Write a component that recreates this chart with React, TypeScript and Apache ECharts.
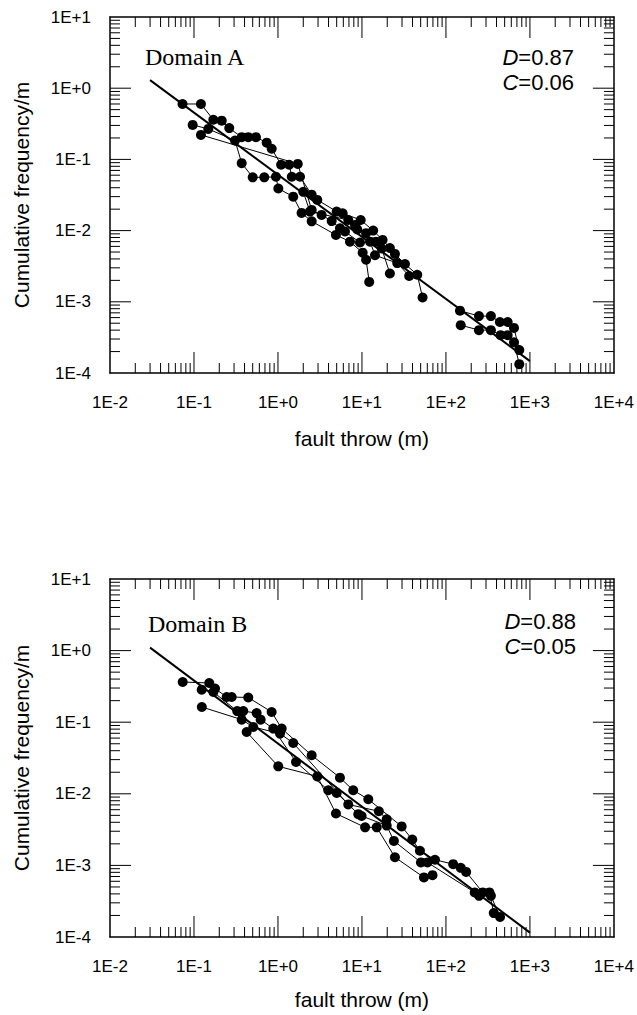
import React, { useEffect, useRef } from "react";
import * as echarts from "echarts";

// ---- axis structure ----
const X_MIN = 0.01;
const X_MAX = 10000;
const Y_MIN = 0.0001;
const Y_MAX = 10;
const xDecades = [-2, -1, 0, 1, 2, 3];
const yDecades = [-4, -3, -2, -1, 0];
const minorMultipliers = [2, 3, 4, 5, 6, 7, 8, 9];
const xMajorTicks = [0.1, 1, 10, 100, 1000];
const yMajorTicks = [0.001, 0.01, 0.1, 1];

// ---- Domain A ----
const a1X = [0.073, 0.121, 0.17, 0.214, 0.263, 0.37, 0.443, 0.547, 0.734, 0.842, 1.09, 1.36, 1.46, 1.83, 2.52, 2.94, 5.0, 5.89, 9.66, 13.6, 17.6, 21.5, 24.7, 32.5, 45.5, 52.7];
const a1Y = [0.6, 0.6, 0.36, 0.35, 0.275, 0.205, 0.205, 0.205, 0.172, 0.141, 0.084, 0.084, 0.057, 0.057, 0.032, 0.027, 0.0185, 0.0175, 0.0141, 0.01, 0.0074, 0.0057, 0.0047, 0.0034, 0.0024, 0.00115];
const a2X = [0.0965, 0.148, 0.308, 0.37, 0.5, 0.687, 0.946, 1.01, 1.52, 1.91, 2.52, 4.9, 7.2, 10.2, 11.2, 12.2];
const a2Y = [0.305, 0.268, 0.184, 0.0885, 0.056, 0.056, 0.057, 0.039, 0.03, 0.0177, 0.0135, 0.0087, 0.007, 0.0049, 0.0039, 0.0019];
const a3X = [0.121, 1.72, 2.52, 3.31, 4.36, 5.47, 6.28, 9.47, 14.7, 17.2, 21.5];
const a3Y = [0.221, 0.0865, 0.0195, 0.0166, 0.0136, 0.0108, 0.0097, 0.0068, 0.007, 0.0056, 0.0025];
const a4X = [2.0, 2.4, 6.87, 8.26, 8.8, 11.2, 12.5, 14.3, 26.3, 36.5];
const a4Y = [0.035, 0.0185, 0.0141, 0.012, 0.0104, 0.0092, 0.007, 0.0045, 0.0035, 0.0023];
const a5X = [147, 247, 343, 439, 543, 646, 747];
const a5Y = [0.00075, 0.00063, 0.00063, 0.00052, 0.00052, 0.00043, 0.00021];
const a6X = [150, 247, 343, 447, 543, 646, 747];
const a6Y = [0.00047, 0.0004, 0.0004, 0.00034, 0.00034, 0.00027, 0.000133];
const fitAX = [0.03, 1000];
const fitAY = [1.3, 0.000147];

// ---- Domain B ----
const b1X = [0.0734, 0.152, 0.178, 0.245, 0.281, 0.443, 0.841, 1.107, 2.52, 5.47, 7.87, 11.9, 29.7, 39.7, 49.0, 74, 122, 150, 174, 274, 329, 371];
const b1Y = [0.364, 0.353, 0.295, 0.225, 0.225, 0.221, 0.139, 0.0815, 0.0345, 0.0168, 0.0112, 0.0084, 0.0035, 0.0023, 0.0016, 0.0012, 0.00104, 0.000925, 0.00081, 0.00042, 0.00042, 0.000216];
const b2X = [0.1236, 0.17, 0.327, 0.386, 0.557, 0.622, 0.879, 1.64, 3.97, 5.0, 9.04, 9.9, 19.7, 24.0, 50.4, 60.2, 220, 248, 343, 441];
const b2Y = [0.285, 0.264, 0.143, 0.143, 0.134, 0.1086, 0.0815, 0.0278, 0.0112, 0.0103, 0.0052, 0.0049, 0.0036, 0.0022, 0.0011, 0.0011, 0.00042, 0.000376, 0.000376, 0.00019];
const b3X = [0.124, 0.37, 0.508, 1.057, 1.52, 6.87, 15.9, 19.7];
const b3Y = [0.163, 0.1086, 0.0857, 0.0694, 0.0512, 0.0071, 0.0057, 0.0044];
const b4X = [0.424, 1.008, 2.94, 4.9, 10.9, 15.0, 24.7, 54.7, 69.2];
const b4Y = [0.073, 0.0242, 0.0175, 0.0053, 0.0034, 0.0034, 0.0013, 0.00068, 0.00073];
const fitBX = [0.03, 1000];
const fitBY = [1.1, 0.000115];

const SANS = "'Liberation Sans', Arial, Helvetica, sans-serif";
const SERIF = "'Liberation Serif', 'Times New Roman', serif";

const xMinorTicks = xDecades.flatMap((d) => minorMultipliers.map((m) => m * Math.pow(10, d)));
const yMinorTicks = yDecades.flatMap((d) => minorMultipliers.map((m) => m * Math.pow(10, d)));

const zip = (xs: number[], ys: number[]) => xs.map((x, i) => [x, ys[i]]);
const expLabel = (v: number) => {
  const e = Math.round(Math.log10(v));
  return "1E" + (e >= 0 ? "+" : "-") + Math.abs(e);
};

type Panel = {
  title: string; d: string; c: string;
  gridTop: number; gridHeight: number; nameGap: number;
  titleX: number; titleY: number; statX: number; statY: number;
  fit: [number[], number[]]; sets: [number[], number[]][];
};

const GRID_W = 504;
const MAJOR_LEN = 21;
const MINOR_LEN = 10;

function buildOption(p: Panel) {
  const line = () => ({ show: true, onZero: false, lineStyle: { color: "#000", width: 1.5 } });
  const lbl = { show: true, formatter: expLabel, color: "#000", fontSize: 17, fontFamily: SANS, margin: 21, showMinLabel: true, showMaxLabel: true };
  const noTick = { show: false };
  const xAxis = [
    {
      type: "log", gridIndex: 0, position: "bottom", min: X_MIN, max: X_MAX,
      axisLine: line(), axisTick: noTick, minorTick: noTick, axisLabel: lbl,
      splitLine: { show: false }, minorSplitLine: { show: false },
      name: "fault throw (m)", nameLocation: "middle", nameGap: p.nameGap,
      nameTextStyle: { color: "#000", fontSize: 21, fontFamily: SANS },
    },
    {
      type: "log", gridIndex: 0, position: "top", min: X_MIN, max: X_MAX,
      axisLine: line(), axisTick: noTick, minorTick: noTick, axisLabel: { show: false },
      splitLine: { show: false }, minorSplitLine: { show: false },
    },
  ];
  const yAxis = [
    {
      type: "log", gridIndex: 0, position: "left", min: Y_MIN, max: Y_MAX,
      axisLine: line(), axisTick: noTick, minorTick: noTick, axisLabel: { ...lbl, margin: 19 },
      splitLine: { show: false }, minorSplitLine: { show: false },
      name: "Cumulative frequency/m", nameLocation: "middle", nameGap: 78,
      nameTextStyle: { color: "#000", fontSize: 21, fontFamily: SANS },
    },
    {
      type: "log", gridIndex: 0, position: "right", min: Y_MIN, max: Y_MAX,
      axisLine: line(), axisTick: noTick, minorTick: noTick, axisLabel: { show: false },
      splitLine: { show: false }, minorSplitLine: { show: false },
    },
  ];

  // tick marks drawn as short two-point line series in data space
  const pxPerDecY = p.gridHeight / 5;
  const pxPerDecX = GRID_W / 6;
  const seg = (a: any[], b: any[]) => ({
    type: "line", xAxisIndex: 0, yAxisIndex: 0, data: [a, b], symbol: "none",
    silent: true, clip: false, z: 1, lineStyle: { color: "#000", width: 1 },
  });
  const tickSeries: any[] = [];
  const addX = (v: number, len: number) => {
    const yb = Math.pow(10, -4 + len / pxPerDecY);
    const yt = Math.pow(10, 1 - len / pxPerDecY);
    tickSeries.push(seg([v, Y_MIN], [v, yb]), seg([v, Y_MAX], [v, yt]));
  };
  const addY = (v: number, len: number) => {
    const xl = Math.pow(10, -2 + len / pxPerDecX);
    const xr = Math.pow(10, 4 - len / pxPerDecX);
    tickSeries.push(seg([X_MIN, v], [xl, v]), seg([X_MAX, v], [xr, v]));
  };
  xMinorTicks.forEach((v) => addX(v, MINOR_LEN));
  xMajorTicks.forEach((v) => addX(v, MAJOR_LEN));
  yMinorTicks.forEach((v) => addY(v, MINOR_LEN));
  yMajorTicks.forEach((v) => addY(v, MAJOR_LEN));

  const series: any[] = [
    ...tickSeries,
    {
      type: "line", xAxisIndex: 0, yAxisIndex: 0, data: zip(p.fit[0], p.fit[1]),
      symbol: "none", lineStyle: { color: "#000", width: 2 }, z: 2,
    },
    ...p.sets.map(([xs, ys]) => ({
      type: "line", xAxisIndex: 0, yAxisIndex: 0, data: zip(xs, ys),
      symbol: "circle", symbolSize: 10, showSymbol: true,
      itemStyle: { color: "#000", borderWidth: 0 }, lineStyle: { color: "#000", width: 1 }, z: 3,
    })),
  ];
  const stat = (text: string, y: number) => ({
    type: "text", x: p.statX, y, silent: true,
    style: {
      text, fill: "#000", font: `22px ${SANS}`, align: "right", verticalAlign: "middle",
      rich: { i: { fontStyle: "italic", fontSize: 22, fontFamily: SANS, fill: "#000" } },
    },
  });
  const graphic = [
    { type: "text", x: p.titleX, y: p.titleY, silent: true, style: { text: p.title, fill: "#000", font: `24px ${SERIF}`, verticalAlign: "middle" } },
    stat(p.d, p.statY),
    stat(p.c, p.statY + 25),
  ];
  return {
    animation: false,
    grid: [{ left: 110, top: p.gridTop, width: GRID_W, height: p.gridHeight }],
    xAxis, yAxis, series, graphic,
  };
}

const panelA: Panel = {
  title: "Domain A", d: "{i|D}=0.87", c: "{i|C}=0.06",
  gridTop: 17, gridHeight: 356, nameGap: 55,
  titleX: 145, titleY: 57, statX: 574, statY: 57,
  fit: [fitAX, fitAY],
  sets: [[a1X, a1Y], [a2X, a2Y], [a3X, a3Y], [a4X, a4Y], [a5X, a5Y], [a6X, a6Y]],
};
const panelB: Panel = {
  title: "Domain B", d: "{i|D}=0.88", c: "{i|C}=0.05",
  gridTop: 79, gridHeight: 358, nameGap: 52,
  titleX: 148, titleY: 124, statX: 576, statY: 121,
  fit: [fitBX, fitBY],
  sets: [[b1X, b1Y], [b2X, b2Y], [b3X, b3Y], [b4X, b4Y]],
};

function ChartPanel({ panel, top, height }: { panel: Panel; top: number; height: number }) {
  const ref = useRef<HTMLDivElement>(null);
  useEffect(() => {
    if (!ref.current) return;
    const chart = echarts.init(ref.current, null, { renderer: "svg" });
    chart.setOption(buildOption(panel) as any);
    return () => chart.dispose();
  }, []);
  return <div ref={ref} style={{ position: "absolute", left: 0, top, width: 637, height }} />;
}

export default function App() {
  return (
    <div style={{ position: "fixed", left: 0, top: 0, width: 637, height: 1015, background: "#fff" }}>
      <ChartPanel panel={panelA} top={0} height={500} />
      <ChartPanel panel={panelB} top={500} height={515} />
    </div>
  );
}
